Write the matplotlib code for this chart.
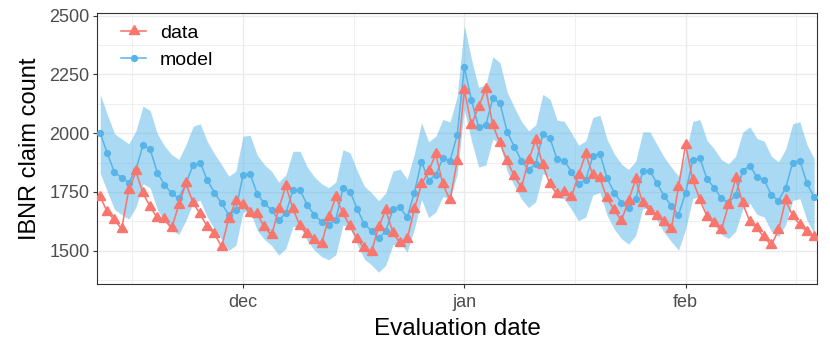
import numpy as np
import pandas as pd
import matplotlib
matplotlib.use("Agg")
import matplotlib.pyplot as plt
import matplotlib.dates as mdates
from matplotlib.ticker import FixedLocator, NullFormatter

# ---------------- data ----------------
start_date = "2019-11-11"

model = [2000, 1914, 1833, 1811, 1790, 1845, 1950, 1931, 1832, 1781,
         1744, 1723, 1785, 1864, 1875, 1800, 1747, 1701, 1652, 1673,
         1822, 1826, 1741, 1701, 1673, 1630, 1659, 1758, 1758, 1694,
         1652, 1623, 1609, 1631, 1765, 1751, 1677, 1612, 1585, 1552,
         1584, 1676, 1684, 1642, 1747, 1879, 1798, 1822, 1893, 1883,
         1992, 2280, 2141, 2025, 2034, 2148, 2127, 2006, 1942, 1883,
         1843, 1869, 1996, 1978, 1889, 1883, 1836, 1784, 1801, 1901,
         1912, 1808, 1747, 1704, 1680, 1718, 1840, 1840, 1786, 1732,
         1690, 1652, 1747, 1885, 1893, 1804, 1768, 1723, 1704, 1737,
         1839, 1862, 1812, 1801, 1737, 1713, 1766, 1875, 1883, 1786,
         1727]

data = [1730, 1664, 1631, 1593, 1759, 1837, 1744, 1687, 1638, 1633,
        1595, 1694, 1786, 1704, 1656, 1602, 1572, 1517, 1636, 1713,
        1694, 1659, 1656, 1600, 1565, 1677, 1777, 1677, 1605, 1569,
        1547, 1527, 1642, 1727, 1659, 1604, 1548, 1511, 1496, 1602,
        1673, 1577, 1533, 1550, 1677, 1782, 1839, 1911, 1782, 1715,
        1882, 2184, 2035, 2113, 2187, 2035, 1957, 1882, 1818, 1768,
        1885, 1971, 1864, 1783, 1739, 1751, 1730, 1822, 1911, 1822,
        1808, 1723, 1673, 1628, 1713, 1803, 1701, 1670, 1649, 1621,
        1591, 1772, 1950, 1801, 1716, 1645, 1617, 1588, 1694, 1808,
        1701, 1623, 1595, 1556, 1524, 1586, 1715, 1648, 1611, 1580,
        1560]

upper = [2165, 2079, 1998, 1976, 1955, 2010, 2115, 2096, 1997, 1946,
         1909, 1888, 1950, 2029, 2040, 1965, 1912, 1866, 1817, 1838,
         1987, 1991, 1906, 1866, 1838, 1792, 1822, 1923, 1923, 1856,
         1814, 1785, 1768, 1792, 1930, 1916, 1840, 1774, 1746, 1712,
         1746, 1839, 1847, 1804, 1912, 2044, 1963, 1987, 2058, 2048,
         2157, 2460, 2315, 2195, 2205, 2325, 2300, 2175, 2110, 2050,
         2010, 2035, 2165, 2145, 2055, 2050, 2001, 1949, 1966, 2066,
         2077, 1973, 1912, 1869, 1845, 1880, 2005, 2005, 1951, 1897,
         1855, 1817, 1912, 2050, 2058, 1969, 1933, 1888, 1869, 1902,
         2004, 2027, 1977, 1966, 1902, 1878, 1931, 2040, 2048, 1951,
         1892]

lower = [1830, 1752, 1675, 1654, 1634, 1685, 1785, 1767, 1674, 1625,
         1589, 1569, 1628, 1704, 1714, 1643, 1592, 1548, 1502, 1522,
         1664, 1668, 1586, 1548, 1522, 1481, 1509, 1603, 1603, 1542,
         1502, 1475, 1461, 1482, 1610, 1596, 1526, 1464, 1439, 1408,
         1438, 1525, 1532, 1493, 1592, 1717, 1641, 1664, 1730, 1721,
         1824, 2100, 1968, 1856, 1864, 1975, 1955, 1838, 1776, 1720,
         1683, 1708, 1828, 1811, 1726, 1720, 1676, 1627, 1643, 1737,
         1748, 1650, 1591, 1551, 1528, 1564, 1680, 1680, 1629, 1577,
         1538, 1502, 1592, 1722, 1730, 1646, 1612, 1569, 1551, 1582,
         1679, 1701, 1654, 1643, 1582, 1559, 1610, 1714, 1721, 1629,
         1573]

month_ticks = ["2019-12-01", "2020-01-01", "2020-02-01"]
month_labels = ["dec", "jan", "feb"]
mid_month_ticks = ["2019-11-15 12:00", "2019-12-16 12:00",
                   "2020-01-16 12:00", "2020-02-16 12:00"]
y_major = [1500, 1750, 2000, 2250, 2500]
y_minor = [1375, 1625, 1875, 2125, 2375]

# ---------------- styling ----------------
plt.rcParams['font.family'] = ['Liberation Sans', 'DejaVu Sans']
RED = '#F8766D'
BLUE = '#56B4E9'
GRID = '#EBEBEB'
DARK = '#333333'
TXT = '#4D4D4D'

W, H = 830, 356
fig = plt.figure(figsize=(W / 100, H / 100), dpi=100)
L, R, T, B = 97, 817, 13, 284
ax = fig.add_axes([L / W, 1 - B / H, (R - L) / W, (B - T) / H])

dates = pd.date_range(start_date, periods=len(model), freq="D")
d0 = mdates.date2num(dates[0])

ax.fill_between(dates, lower, upper, color=BLUE, alpha=0.5,
                linewidth=0, zorder=2)
h_model, = ax.plot(dates, model, color=BLUE, lw=1.1, marker='o', ms=4.2,
                   label='model', zorder=3)
h_data, = ax.plot(dates, data, color=RED, lw=1.15, marker=(3, 0, 0), ms=8.6,
                  label='data', zorder=4)

ax.set_xlim(d0 - 0.45, d0 + 100.4)
ax.set_ylim(1358, 2511.5)

ax.xaxis.set_major_locator(FixedLocator(mdates.date2num(pd.to_datetime(month_ticks))))
ax.xaxis.set_minor_locator(FixedLocator(mdates.date2num(pd.to_datetime(mid_month_ticks))))
ax.set_xticklabels(month_labels)
ax.xaxis.set_minor_formatter(NullFormatter())
ax.yaxis.set_major_locator(FixedLocator(y_major))
ax.yaxis.set_minor_locator(FixedLocator(y_minor))
ax.yaxis.set_minor_formatter(NullFormatter())

ax.grid(which='major', color=GRID, lw=1.0, zorder=0)
ax.grid(which='minor', color=GRID, lw=0.55, zorder=0)
ax.set_axisbelow(True)

for s in ax.spines.values():
    s.set_color(DARK)
    s.set_linewidth(0.8)

ax.tick_params(which='major', length=2.8, width=0.8, color=DARK,
               labelcolor=TXT, labelsize=13, pad=2.5)
ax.tick_params(axis='x', which='major', pad=4.5)
ax.tick_params(which='minor', length=0)

ax.set_xlabel("Evaluation date", fontsize=17.5, color='black', labelpad=5)
ax.set_ylabel("IBNR claim count", fontsize=17, color='black', labelpad=6)

leg = ax.legend(handles=[h_data, h_model], labels=['data', 'model'],
                loc='upper left', bbox_to_anchor=(121 / W, 1 - 24 / H),
                bbox_transform=fig.transFigure, frameon=False, fontsize=14,
                handlelength=1.3, handletextpad=0.7, labelspacing=0.48,
                borderpad=0, borderaxespad=0, numpoints=1)

fig.savefig("out.png", dpi=100)
